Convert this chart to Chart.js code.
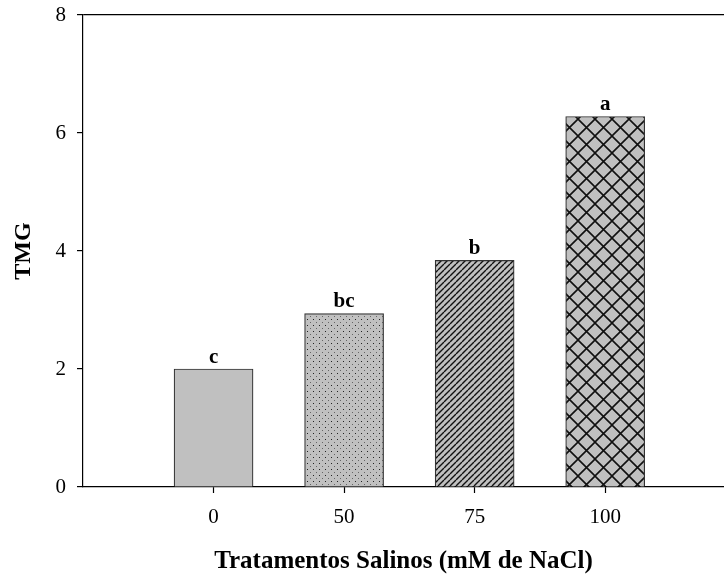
<!DOCTYPE html>
<html>
<head>
<meta charset="utf-8">
<script src="https://cdn.jsdelivr.net/npm/chart.js@4/dist/chart.umd.min.js"></script>
<style>
  html, body { margin: 0; padding: 0; background: #fff; overflow: hidden; }
  #wrap { width: 724px; height: 574px; }
</style>
</head>
<body>
<div id="wrap"><canvas id="tmgChart" width="724" height="574"></canvas></div>
<script>
// Data
const treatments = ["0", "50", "75", "100"];       // NaCl (mM)
const xPositions = [1, 2, 3, 4];
const tmgValues = [2.0, 2.94, 3.84, 6.28];
const letters = ["c", "bc", "b", "a"];
const yTicks = [0, 2, 4, 6, 8];

const SERIF = "'Liberation Serif', 'Times New Roman', serif";
const BAR_GRAY = "#c0c0c0";

// Fill patterns for each bar (plain, dots, diagonal, cross-hatch)
function makePattern(kind) {
  const c = document.createElement("canvas");
  const ctx = c.getContext("2d");
  if (kind === "plain") return BAR_GRAY;
  if (kind === "dots") {
    c.width = 6; c.height = 6;
    ctx.fillStyle = BAR_GRAY;
    ctx.fillRect(0, 0, 6, 6);
    ctx.fillStyle = "#222";
    ctx.fillRect(1, 1, 1, 1);
    ctx.fillStyle = "#666";
    ctx.fillRect(4, 4, 1, 1);
  } else if (kind === "diag") {
    c.width = 6; c.height = 6;
    ctx.fillStyle = BAR_GRAY;
    ctx.fillRect(0, 0, 6, 6);
    ctx.strokeStyle = "#111";
    ctx.lineWidth = 1.4;
    ctx.beginPath();
    for (let o = -6; o <= 6; o += 6) {
      ctx.moveTo(o, 6);
      ctx.lineTo(o + 6, 0);
    }
    ctx.stroke();
  } else if (kind === "cross") {
    const s = 17;
    c.width = s; c.height = s;
    ctx.fillStyle = BAR_GRAY;
    ctx.fillRect(0, 0, s, s);
    ctx.strokeStyle = "#111";
    ctx.lineWidth = 1.6;
    ctx.beginPath();
    for (let o = -s; o <= s; o += s) {
      ctx.moveTo(o, s); ctx.lineTo(o + s, 0);
      ctx.moveTo(o, 0); ctx.lineTo(o + s, s);
    }
    ctx.stroke();
  }
  return ctx.createPattern(c, "repeat");
}

const fills = ["plain", "dots", "diag", "cross"].map(makePattern);

// Letters of the means test above each bar
const barLetters = {
  id: "barLetters",
  afterDatasetsDraw(chart) {
    const { ctx } = chart;
    const meta = chart.getDatasetMeta(0);
    ctx.save();
    ctx.font = "bold 21px " + SERIF;
    ctx.fillStyle = "#000";
    ctx.textAlign = "center";
    ctx.textBaseline = "bottom";
    meta.data.forEach((bar, i) => {
      ctx.fillText(letters[i], bar.x, bar.y - 1);
    });
    ctx.restore();
  }
};

new Chart(document.getElementById("tmgChart"), {
  type: "bar",
  data: {
    datasets: [{
      label: "TMG",
      data: xPositions.map((x, i) => ({ x: x, y: tmgValues[i] })),
      backgroundColor: fills,
      borderColor: "#333",
      borderWidth: 1.2,
      borderSkipped: "bottom",
      barThickness: 79
    }]
  },
  options: {
    responsive: false,
    animation: false,
    devicePixelRatio: 1,
    layout: { padding: { top: 15, right: 0, left: 0, bottom: 0 } },
    plugins: {
      legend: { display: false },
      tooltip: { enabled: false }
    },
    scales: {
      x: {
        type: "linear",
        offset: false,
        min: 0,
        max: 4.91,
        afterBuildTicks: (scale) => {
          scale.ticks = xPositions.map(v => ({ value: v }));
        },
        afterFit: (scale) => {
          scale.height = 87;
          scale.paddingLeft = 0;
          scale.paddingRight = 0;
        },
        ticks: {
          color: "#000",
          font: { family: SERIF, size: 21 },
          padding: 12,
          maxRotation: 0,
          callback: (v) => {
            const i = xPositions.indexOf(v);
            return i >= 0 ? treatments[i] : "";
          }
        },
        grid: {
          offset: false,
          drawOnChartArea: false,
          tickLength: 6,
          tickColor: "#000",
          tickWidth: 1.2
        },
        border: { display: true, color: "#000", width: 1.2 },
        title: {
          display: true,
          text: "Tratamentos Salinos (mM de NaCl)",
          color: "#000",
          font: { family: SERIF, size: 25, weight: "bold", lineHeight: 1 },
          padding: { top: 0, bottom: 0 }
        }
      },
      y: {
        min: 0,
        max: 8,
        afterBuildTicks: (scale) => {
          scale.ticks = yTicks.map(v => ({ value: v }));
        },
        afterFit: (scale) => {
          scale.width = 83;
          scale.paddingTop = 0;
          scale.paddingBottom = 0;
        },
        ticks: {
          color: "#000",
          font: { family: SERIF, size: 21 },
          padding: 11
        },
        grid: {
          color: (c) => (c.tick && c.tick.value === 8 ? "#000" : "rgba(0,0,0,0)"),
          lineWidth: 1.2,
          tickLength: 6,
          tickColor: "#000",
          tickWidth: 1.2
        },
        border: { display: true, color: "#000", width: 1.2 },
        title: {
          display: true,
          text: "TMG",
          color: "#000",
          font: { family: SERIF, size: 24, weight: "bold", lineHeight: 1 },
          padding: { top: 12, bottom: 0 }
        }
      }
    }
  },
  plugins: [barLetters]
});
</script>
</body>
</html>
